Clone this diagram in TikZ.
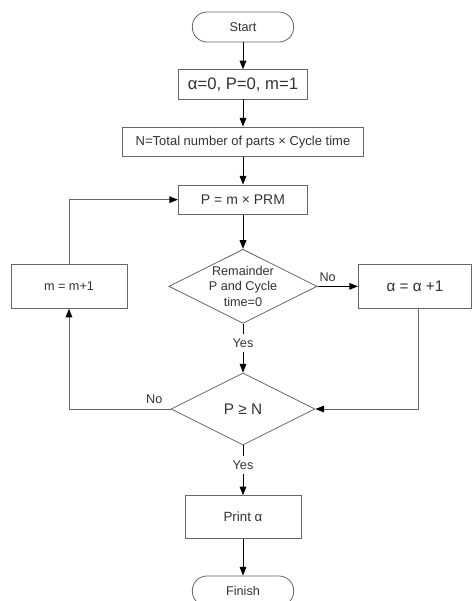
\documentclass[tikz,border=0pt]{standalone}
\usepackage{fontspec}
\setmainfont{Liberation Sans}
\usepackage{xcolor}
\usetikzlibrary{positioning,shapes.geometric,arrows.meta}

\begin{document}
\begin{tikzpicture}[
x=0.75pt, y=-0.75pt, >={Triangle[length=6.5pt,width=5pt]}, line width=0.75pt,
box/.style={rectangle, draw=black!60, fill=white, line width=0.6pt, minimum width=97pt, minimum height=22pt, align=center, text=black!80, font=\fontsize{9.5}{11}\selectfont},
term/.style={box, rounded corners=11pt, minimum width=76pt, minimum height=22.5pt},
cond/.style={diamond, draw=black!60, fill=white, line width=0.6pt, aspect=2, inner sep=0pt, minimum width=108pt, minimum height=54pt, align=center, text=black!80, font=\fontsize{9.5}{11.5}\selectfont},
lbl/.style={text=black!80, font=\fontsize{9.5}{11}\selectfont},
loopline/.style={draw=black!60, -{Triangle[length=6.5pt,width=5pt,color=black]}}
]
\useasboundingbox (0,0) rectangle (472,601);

\node[term](start) at (243,27){Start};
\node[box, font=\fontsize{12.5}{14}\selectfont](init)[below of = start, node distance=43pt]{α=0, P=0, m=1};
\node[box, minimum width=181pt, font=\fontsize{9.75}{11}\selectfont](ntot)[below of = init, node distance=43pt]{N=Total number of parts × Cycle time};
\node[box, font=\fontsize{10.5}{12}\selectfont](pcalc)[below of = ntot, node distance=43.5pt]{P = m × PRM};
\node[cond](remchk)[below of = pcalc, node distance=65pt]{Remainder\\P and Cycle\\time=0};
\node[box, minimum width=85pt, minimum height=33pt, font=\fontsize{11.5}{13}\selectfont](alpha_inc)[right of = remchk, node distance=129pt]{α = α +1};
\node[box, minimum width=87pt, minimum height=33pt](m_inc)[left of = remchk, node distance=130.5pt]{m = m+1};
\node[cond, font=\fontsize{11.5}{13}\selectfont](pcheck)[below of = remchk, node distance=92pt]{P ≥ N};
\node[box, minimum width=87pt, minimum height=32pt, font=\fontsize{10}{12}\selectfont](print)[below of = pcheck, node distance=81pt]{Print α};
\node[term](finish)[below of = print, node distance=55.5pt]{Finish};

\draw[->] (start) -- (init);
\draw[->] (init) -- (ntot);
\draw[->] (ntot) -- (pcalc);
\draw[->] (pcalc) -- (remchk);
\draw[->] (remchk) -- node[lbl, fill=white, pos=0.4]{Yes} (pcheck);
\draw[->] (remchk.east) -- node[lbl, above, pos=0.25]{No} (alpha_inc.west);
\draw[loopline] ([xshift=2.5pt]alpha_inc.south) |- (pcheck.east);
\draw[loopline] (pcheck.west) -| node[lbl, above, pos=0.08]{No} (m_inc.south);
\draw[loopline] (m_inc.north) |- (pcalc.west);
\draw[->] (pcheck) -- node[lbl, fill=white, pos=0.4]{Yes} (print);
\draw[->] (print) -- (finish);

\end{tikzpicture}
\end{document}
